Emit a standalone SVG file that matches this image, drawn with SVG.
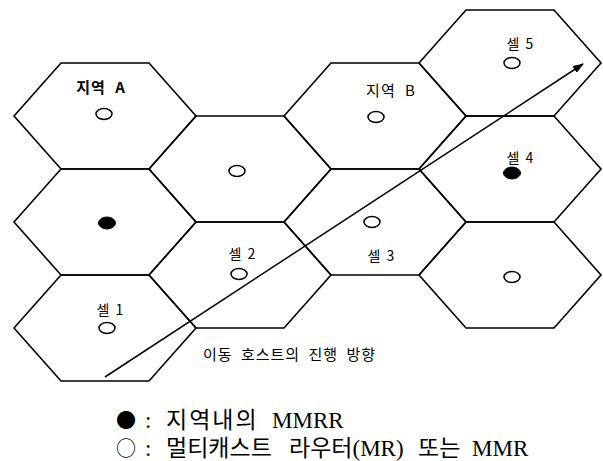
<svg xmlns="http://www.w3.org/2000/svg" xmlns:xlink="http://www.w3.org/1999/xlink" width="603" height="461" viewBox="0 0 603 461">
<style>
.hex{fill:none;stroke:#000;stroke-width:1.6;stroke-linejoin:miter}
.mr{fill:#fff;stroke:#000;stroke-width:1.5}
.mmrr{fill:#000;stroke:#000;stroke-width:1}
.lbl{font-family:"Noto Sans CJK KR","DejaVu Sans",sans-serif;font-size:14px;fill:#000}
.reg{font-family:"Noto Sans CJK KR","DejaVu Sans",sans-serif;font-size:15px;fill:#000;letter-spacing:1px;word-spacing:5px}
.cap{font-family:"Noto Sans CJK KR","DejaVu Sans",sans-serif;font-size:15px;fill:#000;letter-spacing:1px;word-spacing:4px}
.leg{font-family:"Liberation Serif","Noto Sans CJK KR",serif;font-size:23px;fill:#000}
.sym{font-family:"Noto Sans CJK KR",sans-serif;font-size:20px}
.conn{stroke:#000;stroke-width:1.5;fill:none}
</style>
<defs>
<polygon id="hex" class="hex" points="-91,0 -44,-53 44,-53 91,0 44,53 -44,53"/>
<marker id="ah" markerUnits="userSpaceOnUse" markerWidth="12" markerHeight="8" refX="10" refY="4" orient="auto">
<path d="M0,0 L11,4 L0,8 z" fill="#000"/>
</marker>
</defs>
<rect width="603" height="461" fill="#fff"/>
<g id="regionA">
<use xlink:href="#hex" x="105" y="116"/>
<text class="reg" x="101" y="93" text-anchor="middle" font-weight="bold">지역 A</text>
<ellipse class="mr" cx="104" cy="114" rx="8" ry="5.5"/>
</g>
<g id="cellA2">
<use xlink:href="#hex" x="105" y="222"/>
<ellipse class="mmrr" cx="107" cy="223" rx="8.5" ry="6"/>
</g>
<g id="cell1">
<use xlink:href="#hex" x="105" y="328"/>
<text class="lbl" x="110" y="315" text-anchor="middle" word-spacing="3">셀 1</text>
<ellipse class="mr" cx="107" cy="328" rx="8" ry="5.5"/>
</g>
<g id="cellC2a">
<use xlink:href="#hex" x="240" y="169"/>
<ellipse class="mr" cx="237" cy="171" rx="8" ry="5.5"/>
</g>
<g id="cell2">
<use xlink:href="#hex" x="240" y="275"/>
<text class="lbl" x="242" y="259" text-anchor="middle" word-spacing="3">셀 2</text>
<ellipse class="mr" cx="239" cy="274" rx="8" ry="5.5"/>
</g>
<g id="regionB">
<use xlink:href="#hex" x="375" y="116"/>
<text class="reg" x="391" y="96" text-anchor="middle">지역 B</text>
<ellipse class="mr" cx="376" cy="117" rx="8" ry="5.5"/>
</g>
<g id="cell3">
<use xlink:href="#hex" x="375" y="222"/>
<ellipse class="mr" cx="372" cy="222" rx="8" ry="5.5"/>
<text class="lbl" x="381" y="261" text-anchor="middle" word-spacing="3">셀 3</text>
</g>
<g id="cell5">
<use xlink:href="#hex" x="510" y="63"/>
<text class="lbl" x="520" y="49" text-anchor="middle" word-spacing="3">셀 5</text>
<ellipse class="mr" cx="512" cy="63" rx="8" ry="5.5"/>
</g>
<g id="cell4">
<use xlink:href="#hex" x="510" y="169"/>
<text class="lbl" x="520" y="163" text-anchor="middle" word-spacing="3">셀 4</text>
<ellipse class="mmrr" cx="512" cy="173" rx="8.5" ry="6"/>
</g>
<g id="cellD3">
<use xlink:href="#hex" x="510" y="275"/>
<ellipse class="mr" cx="512" cy="277" rx="8" ry="5.5"/>
</g>
<g id="connectors">
<line class="conn" x1="105" y1="377" x2="583" y2="64" marker-end="url(#ah)"/>
</g>
<g id="caption">
<text class="cap" x="203" y="360">이동 호스트의 진행 방향</text>
</g>
<g id="legend">
<text class="leg" y="428"><tspan class="sym" x="116">●</tspan><tspan x="145">:</tspan><tspan x="166" letter-spacing="2">지역내의</tspan><tspan x="272">MMRR</tspan></text>
<text class="leg" y="456"><tspan class="sym" x="116">○</tspan><tspan x="145">:</tspan><tspan x="166">멀티캐스트</tspan><tspan x="289">라우터(MR)</tspan><tspan x="418">또는</tspan><tspan x="472">MMR</tspan></text>
</g>
</svg>
